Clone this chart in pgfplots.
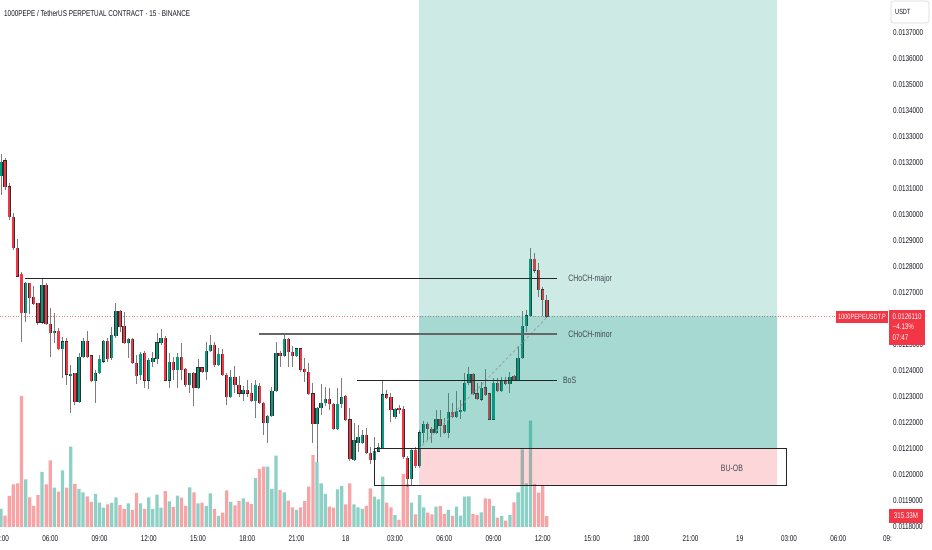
\documentclass[border=0pt]{standalone}
\usepackage{fontspec}
\setmainfont{Liberation Sans}[FakeStretch=0.75]
\usepackage{pgfplots}
\pgfplotsset{compat=1.18}
\usepackage{pgfplotstable}
\definecolor{upc}{RGB}{8,153,129}
\definecolor{dnc}{RGB}{242,54,69}
\definecolor{volg}{RGB}{140,208,198}
\definecolor{volr}{RGB}{248,163,166}
\definecolor{wickc}{RGB}{125,125,125}
\definecolor{bordc}{RGB}{45,45,45}
\definecolor{axtext}{RGB}{19,23,34}
\definecolor{labc}{RGB}{67,70,81}
\newcommand\tf[1]{\fontsize{#1}{#1}\selectfont}

\pgfplotstableread{
i o h l c v
0 0.013150 0.013235 0.013077 0.013204 517
6 0.012623 0.012742 0.012588 0.012738 1369
10 0.012588 0.012754 0.012581 0.012731 1579
13 0.012546 0.012623 0.012508 0.012554 1129
15 0.012485 0.012531 0.012373 0.012512 1626
17 0.012381 0.012423 0.012238 0.012388 2306
19 0.012281 0.012469 0.012277 0.012454 1091
20 0.012454 0.012527 0.012450 0.012515 995
23 0.012362 0.012404 0.012277 0.012392 947
24 0.012392 0.012462 0.012388 0.012446 698
25 0.012438 0.012519 0.012431 0.012515 555
27 0.012450 0.012569 0.012442 0.012538 689
28 0.012535 0.012661 0.012527 0.012631 852
31 0.012508 0.012527 0.012450 0.012523 679
34 0.012385 0.012473 0.012365 0.012465 679
36 0.012365 0.012450 0.012331 0.012442 852
37 0.012435 0.012473 0.012415 0.012450 517
38 0.012446 0.012546 0.012427 0.012508 928
39 0.012508 0.012562 0.012500 0.012527 555
41 0.012365 0.012469 0.012335 0.012435 736
43 0.012404 0.012469 0.012335 0.012454 899
46 0.012346 0.012392 0.012315 0.012392 1139
48 0.012335 0.012446 0.012331 0.012412 679
50 0.012396 0.012512 0.012365 0.012477 603
51 0.012477 0.012538 0.012473 0.012500 966
53 0.012423 0.012488 0.012419 0.012465 316
56 0.012300 0.012404 0.012296 0.012377 718
59 0.012315 0.012342 0.012285 0.012327 823
62 0.012285 0.012365 0.012219 0.012346 1406
65 0.012200 0.012231 0.012123 0.012227 1732
66 0.012227 0.012338 0.012223 0.012323 1091
67 0.012323 0.012512 0.012319 0.012469 2047
69 0.012458 0.012542 0.012454 0.012523 995
72 0.012458 0.012488 0.012454 0.012485 488
77 0.012196 0.012262 0.012050 0.012258 1866
78 0.012258 0.012350 0.012231 0.012277 1254
79 0.012277 0.012338 0.012265 0.012292 947
82 0.012177 0.012335 0.012173 0.012273 1081
83 0.012273 0.012373 0.012258 0.012300 1177
86 0.012058 0.012200 0.012054 0.012135 651
87 0.012123 0.012192 0.012088 0.012146 565
88 0.012123 0.012173 0.012119 0.012154 517
91 0.012058 0.012146 0.012050 0.012092 870
92 0.012092 0.012123 0.012088 0.012108 794
93 0.012104 0.012365 0.012100 0.012308 1445
96 0.012223 0.012258 0.012215 0.012254 344
100 0.011985 0.012104 0.011962 0.012096 698
102 0.012035 0.012173 0.012027 0.012162 918
103 0.012162 0.012208 0.012123 0.012196 565
106 0.012162 0.012250 0.012158 0.012215 584
109 0.012162 0.012315 0.012142 0.012242 488
111 0.012223 0.012323 0.012219 0.012246 584
112 0.012242 0.012288 0.012215 0.012250 325
113 0.012246 0.012392 0.012242 0.012354 870
114 0.012354 0.012415 0.012346 0.012388 880
117 0.012292 0.012358 0.012285 0.012335 421
120 0.012215 0.012373 0.012212 0.012354 603
122 0.012323 0.012377 0.012319 0.012362 316
124 0.012350 0.012396 0.012315 0.012377 344
126 0.012365 0.012496 0.012362 0.012450 995
127 0.012450 0.012631 0.012446 0.012573 2229
128 0.012573 0.012635 0.012550 0.012612 1254
129 0.012612 0.012873 0.012608 0.012831 3052
}\up

\pgfplotstableread{
i o h l c v
1 0.013208 0.013219 0.013096 0.013108 325
2 0.013108 0.013123 0.012981 0.012992 890
3 0.012992 0.013008 0.012865 0.012873 1225
4 0.012873 0.012908 0.012762 0.012765 1254
5 0.012773 0.012781 0.012512 0.012623 3760
7 0.012738 0.012740 0.012619 0.012681 852
8 0.012685 0.012727 0.012654 0.012658 603
9 0.012661 0.012663 0.012577 0.012588 918
11 0.012731 0.012738 0.012577 0.012581 1225
12 0.012581 0.012642 0.012454 0.012546 1914
14 0.012554 0.012565 0.012481 0.012485 1014
16 0.012512 0.012527 0.012346 0.012388 1129
18 0.012392 0.012394 0.012269 0.012281 1234
21 0.012515 0.012554 0.012450 0.012454 880
22 0.012458 0.012459 0.012358 0.012362 718
26 0.012515 0.012527 0.012435 0.012446 651
29 0.012631 0.012635 0.012550 0.012569 631
30 0.012573 0.012627 0.012504 0.012508 517
32 0.012523 0.012527 0.012427 0.012431 488
33 0.012431 0.012462 0.012350 0.012381 976
35 0.012469 0.012477 0.012335 0.012365 517
40 0.012527 0.012535 0.012362 0.012365 1033
42 0.012435 0.012454 0.012365 0.012404 574
44 0.012454 0.012508 0.012365 0.012404 842
45 0.012408 0.012412 0.012338 0.012346 603
47 0.012392 0.012396 0.012265 0.012335 995
49 0.012412 0.012415 0.012392 0.012396 698
52 0.012500 0.012512 0.012415 0.012423 517
54 0.012465 0.012485 0.012381 0.012385 411
55 0.012385 0.012392 0.012269 0.012300 1052
57 0.012377 0.012419 0.012315 0.012346 622
58 0.012346 0.012381 0.012300 0.012315 746
60 0.012327 0.012365 0.012300 0.012315 718
61 0.012315 0.012354 0.012281 0.012285 660
63 0.012342 0.012354 0.012273 0.012277 1665
64 0.012277 0.012279 0.012154 0.012200 1732
68 0.012469 0.012477 0.012415 0.012458 1062
70 0.012523 0.012525 0.012415 0.012473 756
71 0.012473 0.012496 0.012415 0.012458 565
73 0.012485 0.012487 0.012396 0.012404 565
74 0.012408 0.012450 0.012358 0.012396 746
75 0.012396 0.012431 0.012308 0.012312 1158
76 0.012312 0.012354 0.012123 0.012196 2066
80 0.012292 0.012335 0.012250 0.012273 584
81 0.012273 0.012277 0.012173 0.012177 555
84 0.012304 0.012308 0.012208 0.012212 651
85 0.012212 0.012258 0.012054 0.012062 1254
89 0.012154 0.012181 0.012081 0.012085 603
90 0.012085 0.012108 0.012042 0.012058 1110
94 0.012308 0.012327 0.012292 0.012296 698
95 0.012300 0.012315 0.012204 0.012250 565
97 0.012258 0.012269 0.012235 0.012250 201
98 0.012254 0.012265 0.012062 0.012069 1521
99 0.012065 0.012073 0.011954 0.011985 1234
101 0.012096 0.012108 0.012027 0.012035 364
104 0.012196 0.012204 0.012135 0.012177 411
105 0.012177 0.012185 0.012123 0.012162 364
107 0.012215 0.012250 0.012146 0.012192 603
108 0.012192 0.012219 0.012158 0.012162 373
110 0.012242 0.012277 0.012219 0.012223 316
115 0.012388 0.012392 0.012308 0.012312 373
116 0.012312 0.012354 0.012288 0.012292 344
118 0.012335 0.012408 0.012304 0.012308 823
119 0.012312 0.012315 0.012212 0.012215 804
121 0.012354 0.012373 0.012319 0.012323 268
123 0.012362 0.012377 0.012346 0.012350 182
125 0.012381 0.012385 0.012362 0.012365 708
130 0.012831 0.012854 0.012777 0.012788 1234
131 0.012788 0.012815 0.012685 0.012712 985
132 0.012712 0.012723 0.012612 0.012673 1177
133 0.012673 0.012692 0.012604 0.012611 315
}\dn

\begin{document}
\begin{tikzpicture}[x=1bp,y=1bp]
\fill[white] (0,0) rectangle (932,550);
\useasboundingbox (0,0) rectangle (932,550);

% volume pane
\begin{axis}[at={(0bp,22bp)}, anchor=south west, scale only axis,
  width=889bp, height=528bp, xmin=-0.244, xmax=216.37,
  ymin=-28.7, ymax=15125, hide axis]
\addplot[ybar, bar width=0.8, fill=volg, draw=none] table[x=i,y=v]{\up};
\addplot[ybar, bar width=0.8, fill=volr, draw=none] table[x=i,y=v]{\dn};
\end{axis}

% price pane
\begin{axis}[at={(0bp,22bp)}, anchor=south west, scale only axis,
  width=889bp, height=528bp, xmin=-0.244, xmax=216.37,
  ymin=0.01179615, ymax=0.01382692,
  axis line style={draw=none}, major tick length=0pt, tick style={draw=none},
  scaled y ticks=false,
  xtick={0,12,...,216},
  xticklabels={03:00,06:00,09:00,12:00,15:00,18:00,21:00,18,03:00,06:00,09:00,12:00,15:00,18:00,21:00,19,03:00,06:00,09:},
  ytick={0.0118,0.0119,0.0120,0.0121,0.0122,0.0123,0.0124,0.0125,0.0126,0.0127,0.0128,0.0129,0.0130,0.0131,0.0132,0.0133,0.0134,0.0135,0.0136,0.0137},
  yticklabels={0.0118000,0.0119000,0.0120000,0.0121000,0.0122000,0.0123000,0.0124000,0.0125000,0.0126000,0.0127000,0.0128000,0.0129000,0.0130000,0.0131000,0.0132000,0.0133000,0.0134000,0.0135000,0.0136000,0.0137000},
  yticklabel pos=right,
  ticklabel style={font=\tf{8.5}, text=axtext, inner sep=0pt},
  yticklabel style={anchor=west, xshift=4bp},
  xticklabel style={anchor=base, yshift=-13.5bp}]

% current price dotted line
\addplot[dnc!70, dotted, line width=0.7bp] coordinates {(-1,0.012611) (203.5,0.012611)};

% wicks
\addplot[draw=none, no markers, error bars/.cd, y dir=both, y explicit, error mark=none,
  error bar style={line width=0.9bp, draw=wickc}]
  table[x=i, y expr={(\thisrow{h}+\thisrow{l})/2}, y error expr={(\thisrow{h}-\thisrow{l})/2}]{\up};
\addplot[draw=none, no markers, error bars/.cd, y dir=both, y explicit, error mark=none,
  error bar style={line width=0.9bp, draw=wickc}]
  table[x=i, y expr={(\thisrow{h}+\thisrow{l})/2}, y error expr={(\thisrow{h}-\thisrow{l})/2}]{\dn};
% bodies (outline)
\addplot[draw=none, no markers, error bars/.cd, y dir=both, y explicit, error mark=none,
  error bar style={line width=3.3bp, draw=bordc}]
  table[x=i, y expr={(\thisrow{o}+\thisrow{c})/2}, y error expr={abs(\thisrow{o}-\thisrow{c})/2+0.0000016}]{\up};
\addplot[draw=none, no markers, error bars/.cd, y dir=both, y explicit, error mark=none,
  error bar style={line width=3.3bp, draw=bordc}]
  table[x=i, y expr={(\thisrow{o}+\thisrow{c})/2}, y error expr={abs(\thisrow{o}-\thisrow{c})/2+0.0000016}]{\dn};
% bodies (fill)
\addplot[draw=none, no markers, error bars/.cd, y dir=both, y explicit, error mark=none,
  error bar style={line width=2.1bp, draw=upc}]
  table[x=i, y expr={(\thisrow{o}+\thisrow{c})/2}, y error expr={abs(\thisrow{o}-\thisrow{c})/2}]{\up};
\addplot[draw=none, no markers, error bars/.cd, y dir=both, y explicit, error mark=none,
  error bar style={line width=2.1bp, draw=dnc}]
  table[x=i, y expr={(\thisrow{o}+\thisrow{c})/2}, y error expr={abs(\thisrow{o}-\thisrow{c})/2}]{\dn};

% long position zones
\addplot[fill=upc, fill opacity=0.2, draw=none] coordinates {(101.85,0.0121) (189.08,0.0121) (189.08,0.01385) (101.85,0.01385) (101.85,0.0121)};
\addplot[fill=upc, fill opacity=0.2, draw=none] coordinates {(101.85,0.0121) (189.08,0.0121) (189.08,0.012611) (101.85,0.012611) (101.85,0.0121)};
\addplot[fill=dnc, fill opacity=0.2, draw=none] coordinates {(101.85,0.011958) (189.08,0.011958) (189.08,0.0121) (101.85,0.0121) (101.85,0.011958)};
\addplot[gray!75, dash pattern=on 2.5bp off 2.5bp, line width=0.9bp] coordinates {(101.85,0.0121) (133.3,0.012611)};

% structure lines
\addplot[black!85, line width=1bp] coordinates {(5.85,0.012754) (135.5,0.012754)};
\addplot[black!60, line width=1.6bp] coordinates {(62.87,0.012542) (135.5,0.012542)};
\addplot[black!85, line width=1bp] coordinates {(86.74,0.012365) (135.5,0.012365)};
\addplot[black!85, line width=1bp] coordinates {(90.9,0.011958) (191.3,0.011958) (191.3,0.0121) (90.9,0.0121) (90.9,0.011958)};

\node[anchor=west, font=\tf{9.3}, text=labc, inner sep=0pt] at (axis cs:138.2,0.012754) {CHoCH-major};
\node[anchor=west, font=\tf{9.3}, text=labc, inner sep=0pt] at (axis cs:138.2,0.012542) {CHoCH-minor};
\node[anchor=west, font=\tf{9.3}, text=labc, inner sep=0pt] at (axis cs:136.9,0.012365) {BoS};
\node[anchor=center, font=\tf{9.3}, text=labc, inner sep=0pt] at (axis cs:178.1,0.012027) {BU-OB};
\end{axis}

% title
\node[anchor=west, font=\tf{8.5}, text=axtext, inner sep=0pt] at (4,537) {1000PEPE / TetherUS PERPETUAL CONTRACT · 15 · BINANCE};
% currency box
\draw[rounded corners=2.5bp, draw=black!15, fill=white, line width=0.6bp] (891,549) rectangle (929,527);
\node[anchor=west, font=\tf{7.5}, text=axtext, inner sep=0pt] at (895,538) {USDT};
% last price tags
\fill[dnc] (836,239) rectangle (888,227);
\node[font=\tf{7.6}, text=white, inner sep=0pt] at (862,233) {1000PEPEUSDT.P};
\fill[dnc] (889,239.5) rectangle (924.5,205);
\node[anchor=west, font=\tf{8.3}, text=white, inner sep=0pt] at (892.5,233.3) {0.0126110};
\node[anchor=west, font=\tf{8.3}, text=white, inner sep=0pt] at (892.5,223) {−4.13\%};
\node[anchor=west, font=\tf{8.3}, text=white, inner sep=0pt] at (892.5,212) {07:47};
% volume tag
\fill[dnc] (889,41) rectangle (923,27);
\node[font=\tf{8.3}, text=white, inner sep=0pt] at (906,34) {315.33M};
\end{tikzpicture}
\end{document}
